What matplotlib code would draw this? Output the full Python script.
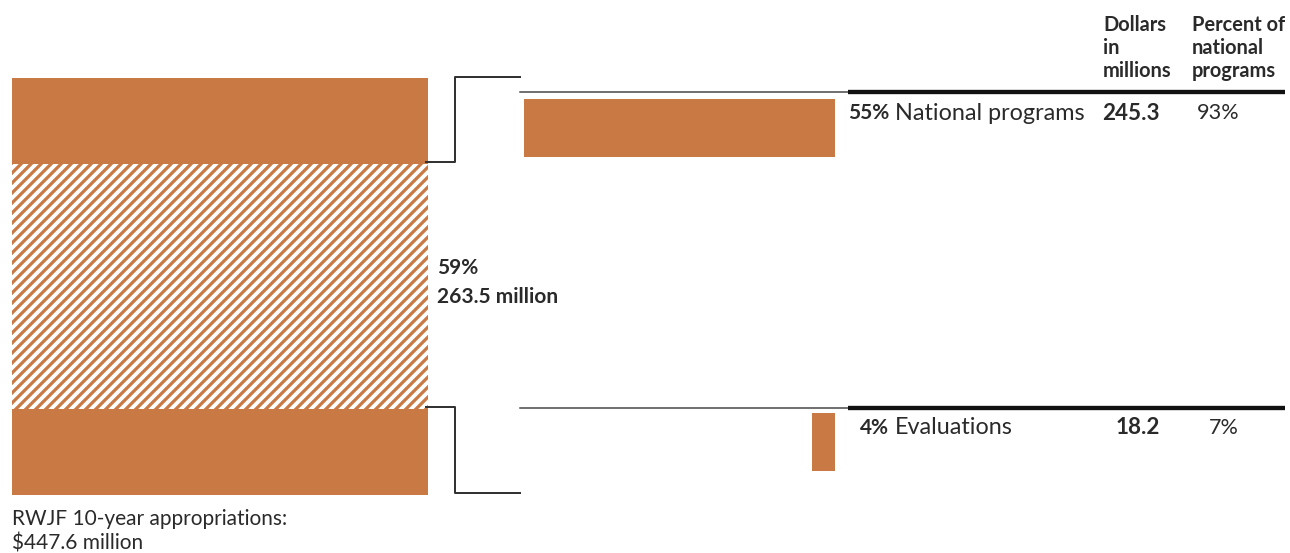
import matplotlib
matplotlib.use('Agg')
import matplotlib.pyplot as plt

# RWJF 10-year appropriations, split of the national programs share
total_appropriations = 447.6
national_share_total = 263.5
national_share_pct = '59%'
other_segments = [92.05, 92.05]   # remaining appropriations, lower and upper block

items = ['National programs', 'Evaluations']
item_pct_of_total = ['55%', '4%']
item_dollars = [245.3, 18.2]
item_pct_of_national = ['93%', '7%']

header_dollars = ['Dollars', 'in', 'millions']
header_percent = ['Percent of', 'national', 'programs']

orange = '#c97a44'
ink = '#2a2a2a'

plt.rcParams['font.family'] = ['Lato', 'DejaVu Sans']
plt.rcParams['hatch.linewidth'] = 2.3

W, H = 1290, 553
fig = plt.figure(figsize=(W/120, H/120), dpi=120)
fig.patch.set_facecolor('white')

#=========================
# stacked bar on the left
axL = fig.add_axes([12/W, 1-495/H, 416/W, 417/H])
axL.set_xlim(0, 1)
axL.set_ylim(0, total_appropriations)
axL.axis('off')
axL.bar(0.5, other_segments[0], width=1, bottom=0, color=orange, linewidth=0)
axL.bar(0.5, national_share_total, width=1, bottom=other_segments[0],
        color=orange, edgecolor='white', linewidth=0, hatch='////')
axL.bar(0.5, other_segments[1], width=1,
        bottom=other_segments[0]+national_share_total, color=orange, linewidth=0)

#=========================
# right-aligned bars for the two items
px_per_million = 311/245.3
axR = fig.add_axes([500/W, 1-471/H, 335/W, 372/H])
axR.set_xlim(-335/px_per_million, 0)
axR.set_ylim(1.092, -0.092)
axR.axis('off')
rows = list(range(len(items)))
axR.barh(rows, item_dollars, left=[-v for v in item_dollars], height=0.184,
         color=orange, linewidth=0)

#=========================
# overlay in pixel units for rules, brackets and labels
ax = fig.add_axes([0, 0, 1, 1], zorder=5)
ax.set_xlim(0, W)
ax.set_ylim(H, 0)
ax.axis('off')
ax.patch.set_alpha(0)

line_c = '#333333'
# brackets
ax.plot([426, 455, 455, 520], [162, 162, 77, 77], color=line_c, lw=1.2)
ax.plot([426, 455, 455, 520], [407, 407, 493, 493], color=line_c, lw=1.2)

# rules above each row
for y in [92, 408]:
    ax.plot([520, 848], [y, y], color='#444444', lw=0.9)
    ax.plot([848, 1285], [y, y], color='#111111', lw=2.6, solid_capstyle='butt')

fs = 12.5
for i, y in enumerate(header_dollars):
    ax.text(1103, 25+i*23, y, fontsize=12, color=ink, fontweight='bold',
            ha='left', va='center')
for i, y in enumerate(header_percent):
    ax.text(1192, 25+i*23, y, fontsize=12, color=ink, fontweight='bold',
            ha='left', va='center')

row_y = [113, 428]
for i in rows:
    ax.text(889, row_y[i], item_pct_of_total[i], fontsize=fs, color=ink,
            fontweight='bold', ha='right', va='center')
    ax.text(895, row_y[i], items[i], fontsize=14, color=ink,
            ha='left', va='center')
    ax.text(1160, row_y[i], f'{item_dollars[i]:.1f}', fontsize=13.5, color=ink,
            fontweight='bold', ha='right', va='center')
    ax.text(1239, row_y[i], item_pct_of_national[i], fontsize=13, color=ink,
            ha='right', va='center')

ax.text(437, 268, national_share_pct, fontsize=fs, color=ink,
        fontweight='bold', ha='left', va='center')
ax.text(437, 297, f'{national_share_total:.1f} million', fontsize=fs, color=ink,
        fontweight='bold', ha='left', va='center')

ax.text(12, 519, 'RWJF 10-year appropriations:', fontsize=fs, color=ink,
        ha='left', va='center')
ax.text(12, 543, f'${total_appropriations:.1f} million', fontsize=fs, color=ink,
        ha='left', va='center')

plt.savefig('out.png', dpi=120, facecolor='white')
